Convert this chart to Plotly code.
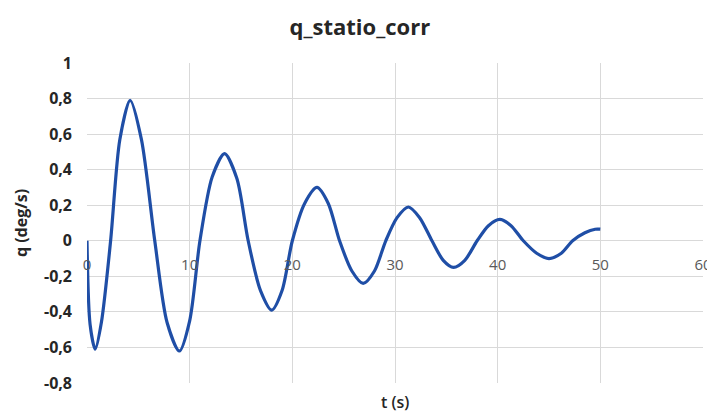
import plotly.graph_objects as go

t_vals = [0, 0.3, 0.8, 1.4, 2.3, 3.2, 4.2, 5.3, 6.6, 7.8, 9.0, 10.0, 11.0, 12.2, 13.4, 14.6,
          15.7, 16.9, 18.0, 19.0, 20.0, 21.2, 22.4, 23.5, 24.6, 25.8, 26.9, 28.0, 29.1, 30.2,
          31.3, 32.4, 33.6, 34.7, 35.7, 36.8, 38.0, 39.1, 40.2, 41.3, 42.5, 43.8, 45.0, 46.2,
          47.3, 48.5, 49.5, 50.0]
q_vals = [0, -0.47, -0.61, -0.46, 0, 0.57, 0.79, 0.57, 0, -0.46, -0.62, -0.45, 0, 0.36, 0.49, 0.35,
          0, -0.28, -0.39, -0.28, 0, 0.21, 0.30, 0.21, 0, -0.17, -0.24, -0.17, 0, 0.13,
          0.19, 0.13, 0, -0.11, -0.15, -0.11, 0, 0.085, 0.12, 0.085, 0, -0.07, -0.10, -0.07,
          0, 0.045, 0.065, 0.065]

x_ticks = [0, 10, 20, 30, 40, 50, 60]
x_ticktext = ["0", "10", "20", "30", "40", "50", "60"]
y_ticks = [-0.8, -0.6, -0.4, -0.2, 0, 0.2, 0.4, 0.6, 0.8, 1]
y_ticktext = ["-0,8", "-0,6", "-0,4", "-0,2", "0", "0,2", "0,4", "0,6", "0,8", "1"]

y_min, y_max = -0.8, 1.0

fig = go.Figure()
fig.add_trace(go.Scatter(x=t_vals, y=q_vals, mode="lines",
                         line=dict(color="#1f4ea6", width=3.2, shape="spline", smoothing=0.8),
                         showlegend=False, hoverinfo="skip"))

fig.update_layout(
    width=715, height=414,
    margin=dict(l=79, r=20, t=55, b=39, autoexpand=False),
    paper_bgcolor="white", plot_bgcolor="white",
    font=dict(family="Open Sans, sans-serif"),
    title=dict(text="q_statio_corr", x=0.443, xref="paper", xanchor="center",
               y=1 - 19 / 414, yref="container", yanchor="middle",
               font=dict(size=22, color="#262626", family="Open Sans, sans-serif", weight="bold")),
    xaxis=dict(range=[0, 60], tickvals=x_ticks, ticktext=x_ticktext,
               showgrid=True, gridcolor="#d9d9d9", gridwidth=1,
               zeroline=False, showline=False, ticks="", automargin=False,
               anchor="free", position=(0 - y_min) / (y_max - y_min),
               tickfont=dict(size=15, color="#595959"), ticklabelstandoff=13),
    yaxis=dict(range=[y_min, y_max], tickvals=y_ticks, ticktext=y_ticktext,
               showgrid=True, gridcolor="#d9d9d9", gridwidth=1,
               zeroline=False, showline=False, ticks="", automargin=False,
               tickfont=dict(size=16, color="#262626", family="Open Sans, sans-serif", weight="bold"),
               ticklabelstandoff=14),
    annotations=[
        dict(text="t (s)", x=0.5, xref="paper", y=-0.059, yref="paper",
             yanchor="middle", showarrow=False,
             font=dict(size=16, color="#262626", weight=600)),
        dict(text="q (deg/s)", x=-0.107, xref="paper", y=0.5, yref="paper",
             xanchor="center", yanchor="middle", textangle=-90, showarrow=False,
             font=dict(size=16, color="#262626", weight="bold")),
    ],
)

fig.write_html("out.html")
